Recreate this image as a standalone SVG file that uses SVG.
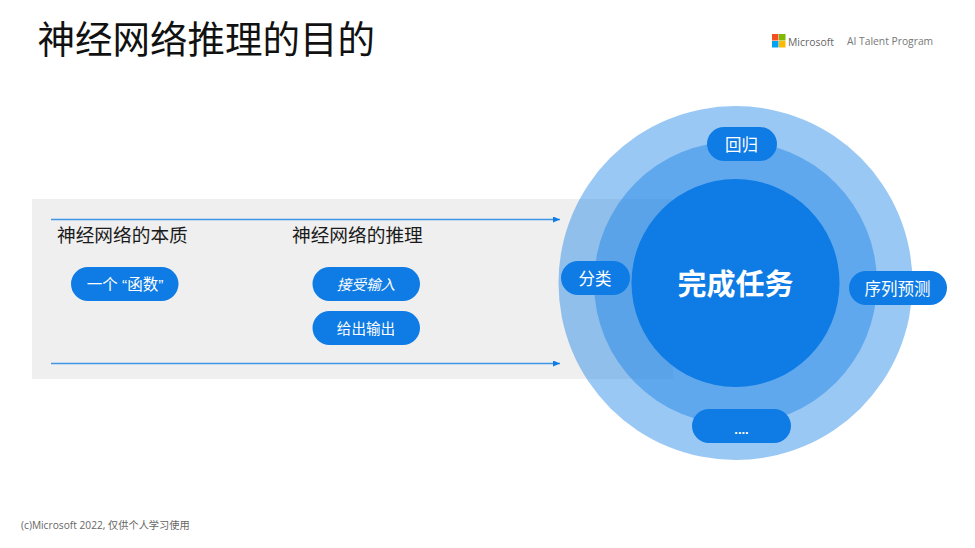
<svg xmlns="http://www.w3.org/2000/svg" width="975" height="548" viewBox="0 0 975 548">
<style>
.cjk{font-family:"Noto Sans CJK SC","Liberation Sans",sans-serif}
.title{font-size:37.500px;fill:#111}
.lg1{font-family:"Open Sans",sans-serif;font-size:10.400px;fill:#666}
.lg2{font-family:"Open Sans",sans-serif;font-size:10.300px;fill:#777}
.foot{font-family:"Open Sans","Noto Sans CJK SC",sans-serif;font-size:10.200px;fill:#666}
.pill{fill:#0f7be4}
.pt{fill:#fff;font-size:16.500px;text-anchor:middle;font-family:"Noto Sans CJK SC",sans-serif}
.pq{fill:#fff;font-size:15.500px;text-anchor:middle;font-family:"Liberation Sans","Noto Sans CJK SC",sans-serif}
.pm{fill:#fff;font-size:14.600px;text-anchor:middle;font-family:"Noto Sans CJK SC",sans-serif}
.pd{fill:#fff;font-size:13px;font-weight:700;text-anchor:middle;font-family:"Liberation Sans",sans-serif}
.it{font-style:italic}
.big{font-size:29px;font-weight:700;fill:#fff;text-anchor:middle}
.h{fill:#1a1a1a;font-size:18.700px;font-family:"Noto Sans CJK SC",sans-serif}
.ln{stroke:#3f96e6;stroke-width:1.3;fill:none;marker-end:url(#a)}
</style>
<defs><marker id="a" markerUnits="userSpaceOnUse" markerWidth="7" markerHeight="6" refX="7" refY="3" orient="auto"><path d="M0 0L7 3L0 6z" fill="#0f7be4"/></marker></defs>
<rect width="975" height="548" fill="#fff"/>
<text id="title" class="cjk title" x="37.500" y="53">神经网络推理的目的</text>
<g id="logo">
<rect x="772" y="34" width="6.500" height="6.500" fill="#f25022"/><rect x="779" y="34" width="6.500" height="6.500" fill="#7fba00"/>
<rect x="772" y="41" width="6.500" height="6.500" fill="#00a4ef"/><rect x="779" y="41" width="6.500" height="6.500" fill="#ffb900"/>
<text class="lg1" x="788" y="45.500">Microsoft</text>
<text class="lg2" x="847" y="45">AI Talent Program</text>
</g>
<rect id="band" x="32" y="199" width="641" height="180" fill="#efefef"/>
<g id="rings">
<circle cx="735.500" cy="283" r="177" fill="#0f7be4" fill-opacity=".42"/>
<circle cx="735.500" cy="283" r="141.500" fill="#0f7be4" fill-opacity=".42"/>
</g>
<g id="connectors">
<path class="ln" d="M51 219.500H560"/>
<path class="ln" d="M51 363.500H560"/>
</g>
<g id="center"><circle cx="735.500" cy="283" r="104" fill="#0f7be4"/>
<text class="cjk big" x="735.500" y="294.500">完成任务</text></g>
<g id="h1"><text class="h" x="57" y="242">神经网络的本质</text></g>
<g id="h2"><text class="h" x="292" y="242">神经网络的推理</text></g>
<g id="p1"><rect class="pill" x="71" y="267" width="107.500" height="34" rx="17"/><text class="pq" x="125" y="289.500">一个 “函数”</text></g>
<g id="p2"><rect class="pill" x="312.500" y="267" width="107.500" height="34" rx="17"/><text class="pm it" x="366" y="289.500">接受输入</text></g>
<g id="p3"><rect class="pill" x="312.500" y="311" width="107.500" height="34" rx="17"/><text class="pm" x="366" y="333.500">给出输出</text></g>
<g id="p4"><rect class="pill" x="707" y="127" width="70" height="34" rx="17"/><text class="pt" x="741.500" y="150.500">回归</text></g>
<g id="p5"><rect class="pill" x="561" y="261" width="69" height="34" rx="17"/><text class="pt" x="595" y="285">分类</text></g>
<g id="p6"><rect class="pill" x="849" y="271" width="98" height="34" rx="17"/><text class="pt" x="897.500" y="295">序列预测</text></g>
<g id="p7"><rect class="pill" x="692" y="409" width="99" height="34" rx="17"/><text class="pd" x="741.500" y="434">....</text></g>
<text id="foot" class="foot" x="21" y="529">(c)Microsoft 2022, 仅供个人学习使用</text>
</svg>
